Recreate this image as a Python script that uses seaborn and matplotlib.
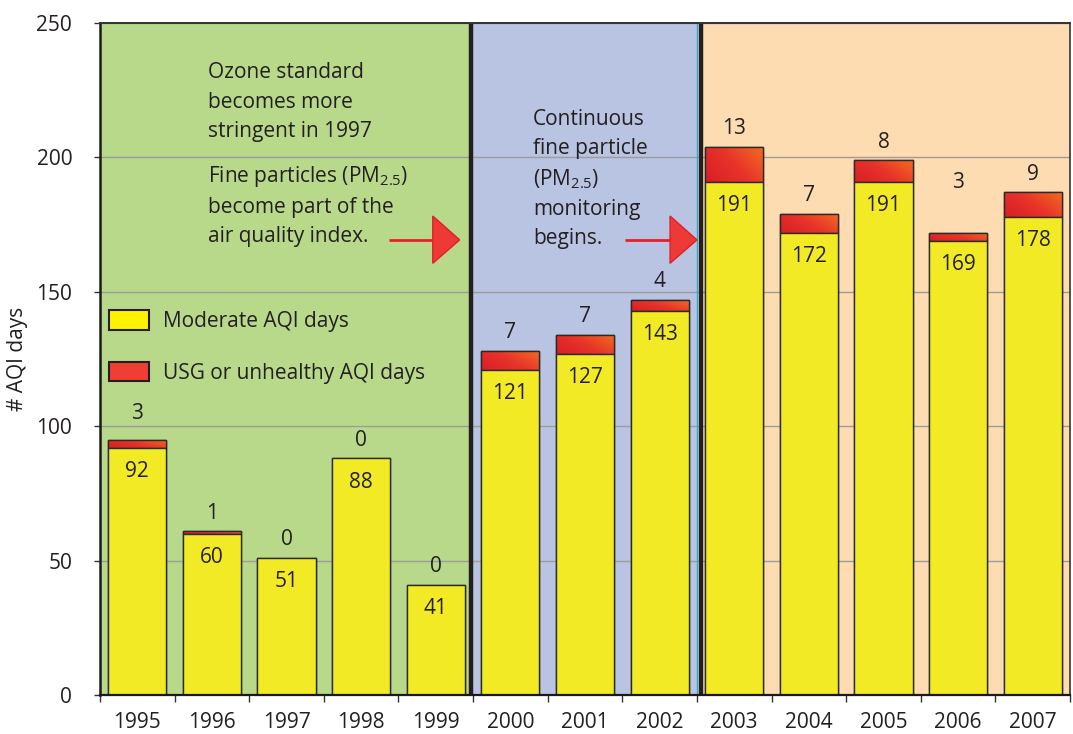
import numpy as np
import pandas as pd
import matplotlib
matplotlib.use("Agg")
import matplotlib.pyplot as plt
from matplotlib.colors import LinearSegmentedColormap
from matplotlib.patches import Patch, Polygon
import seaborn as sns

# ---- data ----
years = ["1995", "1996", "1997", "1998", "1999", "2000", "2001",
         "2002", "2003", "2004", "2005", "2006", "2007"]
moderate_days = [92, 60, 51, 88, 41, 121, 127, 143, 191, 172, 191, 169, 178]
usg_days = [3, 1, 0, 0, 0, 7, 7, 4, 13, 7, 8, 3, 9]

# ---- style ----
sns.set_theme(style="white")
FONT = "Open Sans"
plt.rcParams["font.family"] = [FONT, "DejaVu Sans"]
plt.rcParams["mathtext.fontset"] = "custom"
plt.rcParams["mathtext.rm"] = FONT
plt.rcParams["mathtext.it"] = FONT
plt.rcParams["mathtext.default"] = "rm"

TXT = "#231f20"
YELLOW = "#f2ea24"
GREEN = "#b8d88a"
BLUE = "#b9c3e2"
PEACH = "#fddcb2"
FS = 15

df = pd.DataFrame({"year": years,
                   "moderate": moderate_days,
                   "usg": usg_days})
df["total"] = df["moderate"] + df["usg"]

fig = plt.figure(figsize=(10.73, 7.34), dpi=100)
ax = fig.add_axes([100 / 1073, 39 / 734, 970 / 1073, 672 / 734])

# era backgrounds
ax.axvspan(-0.5, 4.5, color=GREEN, zorder=0.1, lw=0)
ax.axvspan(4.5, 7.5, color=BLUE, zorder=0.1, lw=0)
ax.axvspan(7.5, 12.5, color=PEACH, zorder=0.1, lw=0)
ax.axvline(4.47, color="#231f20", lw=3.2, zorder=4)
ax.axvline(7.5, color="#29abe2", lw=1.0, zorder=4)
ax.axvline(7.56, color="#231f20", lw=3.2, zorder=4)

# stacked bars: totals (red) underneath, moderate (yellow) on top
sns.barplot(data=df, x="year", y="total", color="#e52b2b", saturation=1,
            width=0.78, errorbar=None, edgecolor="#2a2a2a", linewidth=1.0,
            zorder=2, ax=ax)
red_bars = list(ax.containers[-1])
sns.barplot(data=df, x="year", y="moderate", color=YELLOW, saturation=1,
            width=0.78, errorbar=None, edgecolor="#2a2a20", linewidth=1.0,
            zorder=3, ax=ax)

# red-to-orange gradient on the USG segment of each bar
grad_cmap = LinearSegmentedColormap.from_list("usg", ["#d81e26", "#e8332a", "#f36b21"])
gx, gy = np.meshgrid(np.linspace(0, 1, 64), np.linspace(0, 1, 64))
grad = 0.65 * gx + 0.35 * gy
for patch, m, u in zip(red_bars, moderate_days, usg_days):
    if u <= 0:
        continue
    x0 = patch.get_x()
    w = patch.get_width()
    im = ax.imshow(grad, cmap=grad_cmap, origin="lower", aspect="auto",
                   extent=(x0, x0 + w, m, m + u), zorder=2.5,
                   interpolation="bilinear")
    im.set_clip_path(patch)
    # re-draw the outline of the segment above the gradient
    ax.bar(patch.get_x() + w / 2, u, bottom=m, width=w, fill=False,
           edgecolor="#2a2a2a", linewidth=1.0, zorder=2.6)

ax.set_xlim(-0.5, 12.5)
ax.set_ylim(0, 250)

# value labels
for i, (m, u) in enumerate(zip(moderate_days, usg_days)):
    ax.annotate(str(m), (i, m), xytext=(0, -24), textcoords="offset pixels",
                ha="center", va="center", fontsize=FS, color=TXT, zorder=6)
    lift = 18 + (32 if years[i] == "2006" else 0) + (8 if years[i] == "1995" else 0)
    ax.annotate(str(u), (i, m + u), xytext=(0, lift), textcoords="offset pixels",
                ha="center", va="center", fontsize=FS, color=TXT, zorder=6)

# axes, ticks, grid
ax.set_yticks(np.arange(0, 251, 50))
ax.yaxis.grid(True, color="#9c9c9c", lw=1.0, zorder=0.5)
ax.set_axisbelow(True)
ax.set_xticks(range(len(years)))
ax.set_xticklabels(years)
ax.set_xticks(np.arange(-0.5, 12.6, 1), minor=True)
ax.tick_params(axis="x", which="major", length=0, pad=12, labelsize=FS, labelcolor=TXT)
ax.tick_params(axis="x", which="minor", length=5, width=1.0, color="#333333",
               direction="out", bottom=True)
ax.tick_params(axis="y", which="major", length=4, width=1.0, color="#333333",
               direction="out", left=True, pad=16, labelsize=FS, labelcolor=TXT)
ax.set_xlabel("")
ax.set_ylabel("# AQI days", fontsize=FS, color=TXT, labelpad=6)

for side, lw, col in [("left", 1.8, "#1a1a1a"), ("bottom", 1.6, "#1a1a1a"),
                      ("top", 1.4, "#333333"), ("right", 1.2, "#333333")]:
    ax.spines[side].set_visible(True)
    ax.spines[side].set_linewidth(lw)
    ax.spines[side].set_color(col)
    ax.spines[side].set_zorder(5)

# legend
handles = [Patch(facecolor="#fff200", edgecolor="#231f20", lw=1.5, label="Moderate AQI days"),
           Patch(facecolor="#ef3e36", edgecolor="#231f20", lw=1.5, label="USG or unhealthy AQI days"),
           ]
leg = ax.legend(handles=handles, loc="upper left", bbox_to_anchor=(-0.006, 0.594),
                frameon=False, fontsize=FS, handlelength=1.95, handleheight=1.05,
                handletextpad=0.65, labelspacing=1.42, borderaxespad=0.3)
for t in leg.get_texts():
    t.set_color(TXT)

# annotations
ax.text(0.95, 220.5, "Ozone standard\nbecomes more\nstringent in 1997",
        ha="left", va="center", fontsize=FS, color=TXT, linespacing=1.53, zorder=6)
ax.text(0.95, 182, "Fine particles (PM$_{2.5}$)\nbecome part of the\nair quality index.",
        ha="left", va="center", fontsize=FS, color=TXT, linespacing=1.5, zorder=6)
ax.text(5.3, 192, "Continuous\nfine particle\n(PM$_{2.5}$)\nmonitoring\nbegins.",
        ha="left", va="center", fontsize=FS, color=TXT, linespacing=1.5, zorder=6)

# arrows pointing at the era boundaries
ARROW = "#ee3a36"
for x_start, x_neck, x_tip in [(3.37, 3.96, 4.32), (6.54, 7.14, 7.50)]:
    ax.plot([x_start, x_neck], [169.3, 169.3], color="#e8202a", lw=2.0, zorder=6,
            solid_capstyle="butt")
    ax.add_patch(Polygon([[x_neck, 178.2], [x_tip, 169.3], [x_neck, 160.6]],
                         closed=True, facecolor=ARROW, edgecolor="#e11f26",
                         lw=1.0, zorder=6))

fig.savefig("out.png", dpi=100)
